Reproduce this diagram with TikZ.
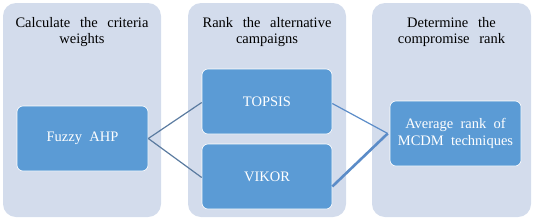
\documentclass[tikz,border=0pt]{standalone}
\usepackage{fontspec}
\setmainfont{Liberation Serif}
\definecolor{panelc}{HTML}{D3DCEC}
\definecolor{boxc}{HTML}{5B9BD5}
\definecolor{linec}{HTML}{5A7BA0}
\definecolor{linec2}{HTML}{5B8CC8}
\begin{document}
\begin{tikzpicture}[x=1pt,y=-1pt,
  panel/.style={fill=panelc,draw=none,rounded corners=13pt},
  stepbox/.style={fill=boxc,draw=white,line width=0.6pt,rounded corners=6pt,text=white,align=center,font=\fontsize{14.5}{16.5}\selectfont},
  ptitle/.style={align=center,text width=150pt,font=\fontsize{14.5}{16.5}\selectfont,anchor=north,inner sep=0pt},
  conn/.style={draw=linec,line width=1.2pt}]
\useasboundingbox (0,0) rectangle (534,223);
\path[panel] (3,3) rectangle (161,217);
\path[panel] (188,3) rectangle (346,217);
\path[panel] (372,3) rectangle (531,217);
\node[ptitle] (t1) at (82,17) {Calculate\ \ the\ \ criteria\\weights};
\node[ptitle] (t2) at (267,17) {Rank\ \ the\ \ alternative\\campaigns};
\node[ptitle] (t3) at (451.5,17) {Determine\ \ the\\compromise\ \ rank};
\node[stepbox,minimum width=131pt,minimum height=65pt] (f) at (82.5,138.5) {Fuzzy\ \ AHP};
\node[stepbox,minimum width=130pt,minimum height=65pt] (tp) at (267,101.5) {TOPSIS};
\node[stepbox,minimum width=130pt,minimum height=65pt] (vk) at (267,176.5) {VIKOR};
\node[stepbox,minimum width=131pt,minimum height=65pt] (av) at (455.5,133.5) {Average\ \ rank\ \ of\\MCDM\ \ techniques};
\coordinate (m) at ([xshift=-2pt]av.west);
\draw[conn] (f.east) -- ([yshift=-1pt]tp.west);
\draw[conn] (f.east) -- ([yshift=-1pt]vk.west);
\draw[draw=linec2,line width=1.2pt] ([yshift=-2pt]tp.east) -- (m);
\draw[draw=linec2,line width=2.6pt] ([yshift=-10pt]vk.east) -- (m);
\end{tikzpicture}
\end{document}
